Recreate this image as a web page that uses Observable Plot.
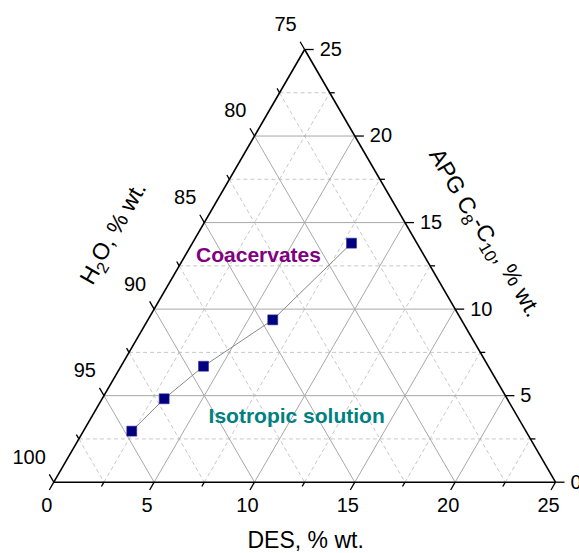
<!DOCTYPE html>
<html><head><meta charset="utf-8">
<script src="https://cdn.jsdelivr.net/npm/d3@7"></script>
<script src="https://cdn.jsdelivr.net/npm/@observablehq/plot@0.6"></script>
<style>body{margin:0;background:#fff} svg{display:block}</style>
</head><body><div id="chart"></div>
<script>
// Data (DES, APG in % wt.; H2O = 100 - DES - APG)
const des = [2.41, 3.09, 4.11, 6.22, 7.93];
const apg = [2.95, 4.82, 6.70, 9.38, 13.81];
// axis ticks
const majorTicks = [0, 5, 10, 15, 20, 25];
const minorTicks = [2.5, 7.5, 12.5, 17.5, 22.5];
const gridMajor = [5, 10, 15, 20];
const h2oLabels = [75, 80, 85, 90, 95, 100];
// region annotations
const regionLabels = ["Coacervates", "Isotropic solution"];
const regionDES = [3.65, 10.2];
const regionAPG = [13.1, 3.8];
const regionColors = ["#800080", "#008080"];

const S = 25, r3 = Math.sqrt(3) / 2;
const X = (d, a) => d + a / 2;
const Y = (d, a) => a * r3;
const seg = (d1, a1, d2, a2) => ({x1: X(d1, a1), y1: Y(d1, a1), x2: X(d2, a2), y2: Y(d2, a2)});

const solid = [], dashed = [];
for (const v of gridMajor) {
  solid.push(seg(0, v, S - v, v), seg(v, 0, v, S - v), seg(0, v, v, 0));
}
for (const v of minorTicks) {
  dashed.push(seg(0, v, S - v, v), seg(v, 0, v, S - v), seg(0, v, v, 0));
}
const edges = [seg(0, 0, S, 0), seg(S, 0, 0, S), seg(0, S, 0, 0)];
const tMaj = 0.45, tMin = 0.25;
const ticks = [];
for (const v of majorTicks) ticks.push(seg(v, 0, v, -tMaj), seg(S - v, v, S - v + tMaj, v), seg(0, v, -tMaj, v + tMaj));
for (const v of minorTicks) ticks.push(seg(v, 0, v, -tMin), seg(S - v, v, S - v + tMin, v), seg(0, v, -tMin, v + tMin));

const pts = des.map((d, i) => ({x: X(d, apg[i]), y: Y(d, apg[i])}));
const regions = regionLabels.map((t, i) => ({t, x: X(regionDES[i], regionAPG[i]), y: Y(regionDES[i], regionAPG[i]), c: regionColors[i]}));

const font = "'Liberation Sans', Arial, sans-serif";

const plot = Plot.plot({
  width: 579, height: 553,
  marginLeft: 53.3, marginRight: 24, marginTop: 49, marginBottom: 71.3,
  x: {domain: [0, S], axis: null},
  y: {domain: [0, S * r3], axis: null},
  style: {fontFamily: font, background: "#fff"},
  marks: [
    Plot.link(dashed, {x1: "x1", y1: "y1", x2: "x2", y2: "y2", stroke: "#c8c8c8", strokeWidth: 1, strokeDasharray: "4,3"}),
    Plot.link(solid, {x1: "x1", y1: "y1", x2: "x2", y2: "y2", stroke: "#a8a8a8", strokeWidth: 1}),
    Plot.link(ticks, {x1: "x1", y1: "y1", x2: "x2", y2: "y2", stroke: "#000", strokeWidth: 1.3}),
    Plot.link(edges, {x1: "x1", y1: "y1", x2: "x2", y2: "y2", stroke: "#000", strokeWidth: 1.6}),
    // bottom DES labels
    Plot.text(majorTicks, {x: d => X(d, 0), y: d => Y(d, 0), text: d => String(d), dx: -7, dy: 23, fontSize: 20, fill: "#000"}),
    // right APG labels
    Plot.text(majorTicks, {x: a => X(S - a, a), y: a => Y(S - a, a), text: a => String(a), dx: 15, dy: 0, textAnchor: "start", fontSize: 20, fill: "#000"}),
    // left H2O labels
    Plot.text(h2oLabels, {x: h => X(0, 100 - h), y: h => Y(0, 100 - h), text: h => String(h), dx: -8, dy: -25, textAnchor: "end", fontSize: 20, fill: "#000"}),
    // axis titles
    Plot.text(["DES, % wt."], {x: X(S / 2, 0), y: Y(S / 2, 0), text: d => d, dx: 1, dy: 58, fontSize: 23, fill: "#000"}),
    Plot.text(["H2O, % wt."], {x: X(0, S / 2), y: Y(0, S / 2), text: d => d, dx: -65, dy: -32, rotate: -60, fontSize: 23, fill: "#000"}),
    Plot.text(["APG C8-C10, % wt."], {x: X(S / 2, S / 2), y: Y(S / 2, S / 2), text: d => d, dx: 53, dy: -32, rotate: 60, fontSize: 23, fill: "#000"}),
    // regions
    Plot.text(regions, {x: "x", y: "y", text: "t", fill: "c", fontSize: 21, fontWeight: "bold"}),
    // series
    Plot.line(pts, {x: "x", y: "y", stroke: "#8a8a8a", strokeWidth: 1}),
    Plot.dot(pts, {x: "x", y: "y", symbol: "square", r: 5.6, fill: "#000080", stroke: "#2a2a9a", strokeWidth: 0.6})
  ]
});

// subscripts
d3.select(plot).selectAll("text").each(function () {
  const el = d3.select(this);
  const txt = this.textContent;
  const parts = txt === "H2O, % wt." ? [["H"], ["2", 1], ["O, % wt."]]
    : txt === "APG C8-C10, % wt." ? [["APG C"], ["8", 1], ["-C"], ["10", 1], [", % wt."]] : null;
  if (!parts) return;
  el.text(null);
  let down = false;
  for (const [s, sub] of parts) {
    const ts = el.append("tspan").text(s);
    if (sub && !down) { ts.attr("dy", "0.32em").attr("font-size", "0.72em"); down = true; }
    else if (!sub && down) { ts.attr("dy", "-0.32em"); down = false; }
    else if (sub) ts.attr("font-size", "0.72em");
  }
});
document.getElementById("chart").appendChild(plot);
</script></body></html>
